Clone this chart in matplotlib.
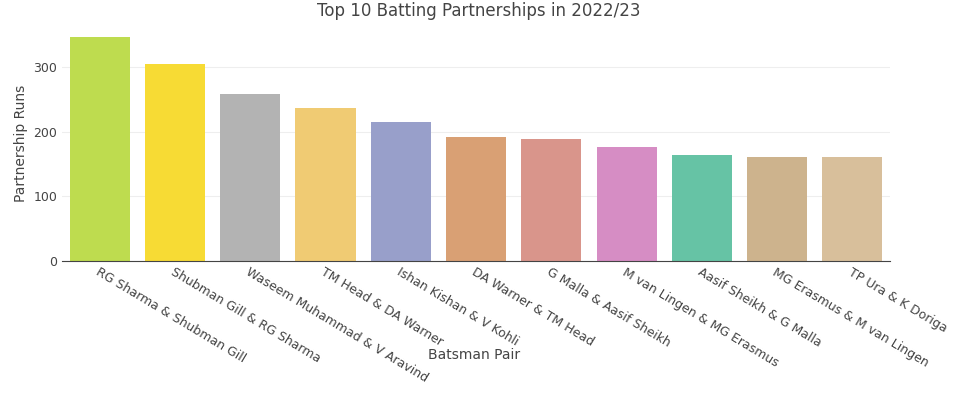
import matplotlib
matplotlib.use("Agg")
import matplotlib.pyplot as plt

pairs = ["RG Sharma & Shubman Gill", "Shubman Gill & RG Sharma", "Waseem Muhammad & V Aravind",
         "TM Head & DA Warner", "Ishan Kishan & V Kohli", "DA Warner & TM Head",
         "G Malla & Aasif Sheikh", "M van Lingen & MG Erasmus", "Aasif Sheikh & G Malla",
         "MG Erasmus & M van Lingen", "TP Ura & K Doriga"]
runs = [347, 305, 259, 237, 215, 192, 189, 176, 164, 161, 161]
colors = ["#bedc4f", "#f7db34", "#b3b3b3", "#f0cb73", "#989fca", "#d9a074",
          "#d9958b", "#d68dc4", "#66c3a5", "#cdb38d", "#d8bf9b"]

fig = plt.figure(figsize=(9.57, 4.0), dpi=100)
ax = fig.add_axes([0.065, 0.3475, 0.865, 0.59])
ax.bar(range(len(pairs)), runs, color=colors, width=0.8, zorder=2)
ax.set_xlim(-0.5, len(pairs) - 0.5)
ax.set_ylim(0, 365)
ax.set_yticks([0, 100, 200, 300])
ax.grid(axis="y", color="#eeeeee", zorder=0)
for s in ["top", "right", "left"]:
    ax.spines[s].set_visible(False)
ax.spines["bottom"].set_color("#444444")
ax.tick_params(axis="both", length=0, colors="#444444", labelsize=9)
ax.set_xticks(range(len(pairs)))
ax.set_xticklabels(pairs, rotation=-31, ha="left", rotation_mode="anchor")
ax.set_ylabel("Partnership Runs", color="#444444", fontsize=10)
fig.text(0.495, 1 - 355 / 400, "Batsman Pair", ha="center", va="center", color="#444444", fontsize=10)
fig.suptitle("Top 10 Batting Partnerships in 2022/23", y=0.995, fontsize=12, color="#444444")
fig.savefig("out.png")
